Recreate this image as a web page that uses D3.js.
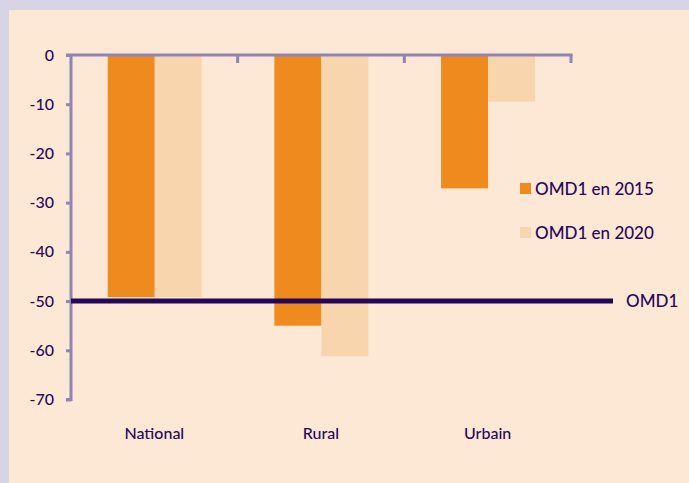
<!DOCTYPE html>
<html><head><meta charset="utf-8">
<script src="https://cdn.jsdelivr.net/npm/d3@7"></script>
<style>
html,body{margin:0;padding:0;background:#d6d4e5;}
svg{display:block;font-family:"Lato","Open Sans",sans-serif;}
</style></head>
<body>
<svg id="c" width="689" height="483"></svg>
<script>
const categories = ["National", "Rural", "Urbain"];
const series = ["OMD1 en 2015", "OMD1 en 2020"];
const values2015 = [-49.2, -55, -27.1];
const values2020 = [-49.2, -61.2, -9.5];
const yTicks = [0, -10, -20, -30, -40, -50, -60, -70];
const targetValue = -50;
const targetLabel = "OMD1";

const colors = ["#ee8a1e", "#f9d5ae"];
const textColor = "#27095a";
const axisColor = "#8e84b6";

const svg = d3.select("#c");
svg.append("rect").attr("x", 9).attr("y", 10).attr("width", 680).attr("height", 473).attr("fill", "#fde8d6");

const x0 = 71, x1 = 571, yTop = 55, yBot = 399.5;
const x = d3.scaleBand().domain(categories).range([x0, x1]);
const xs = d3.scaleBand().domain(series).range([0, 94]);
const y = d3.scaleLinear().domain([0, -70]).range([yTop, yBot]);

const data = [values2015, values2020];
categories.forEach((c, i) => {
  const gx = x(c) + x.bandwidth() / 2 - 46.6;
  series.forEach((s, j) => {
    const v = data[j][i];
    svg.append("rect")
      .attr("x", gx + xs(s))
      .attr("y", y(0))
      .attr("width", xs.bandwidth())
      .attr("height", y(v) - y(0))
      .attr("fill", colors[j]);
  });
});

// y axis
const yAxis = svg.append("g").attr("transform", `translate(${x0},0)`)
  .call(d3.axisLeft(y).tickValues(yTicks).tickSize(5).tickPadding(12).tickFormat(d3.format("d")));
yAxis.select(".domain").attr("stroke", axisColor).attr("stroke-width", 3).attr("d", `M-5,${yBot}H0V${yTop}`);
yAxis.selectAll(".tick line").attr("stroke", axisColor).attr("stroke-width", 3);
yAxis.selectAll(".tick text").attr("fill", textColor).attr("font-size", 16).attr("font-weight", 500)
  .attr("font-family", "Lato, 'Open Sans', sans-serif").text(d => d === 0 ? "0" : "-" + Math.abs(d));

// top x axis line with ticks at band boundaries
const boundaries = [x0].concat(categories.map(c => x(c) + x.bandwidth()));
svg.append("line").attr("x1", x0 - 5).attr("x2", x1 + 1.5).attr("y1", yTop).attr("y2", yTop)
  .attr("stroke", axisColor).attr("stroke-width", 3);
boundaries.slice(1).forEach(b => {
  svg.append("line").attr("x1", b).attr("x2", b).attr("y1", yTop).attr("y2", yTop + 8)
    .attr("stroke", axisColor).attr("stroke-width", 3);
});

// category labels
categories.forEach(c => {
  svg.append("text").attr("x", x(c) + x.bandwidth() / 2).attr("y", 439)
    .attr("text-anchor", "middle").attr("fill", textColor).attr("font-size", 16).attr("font-weight", 500).text(c);
});

// target line
svg.append("line").attr("x1", x0).attr("x2", 613).attr("y1", y(targetValue)).attr("y2", y(targetValue))
  .attr("stroke", "#240757").attr("stroke-width", 5);
svg.append("text").attr("x", 626).attr("y", y(targetValue) + 6).attr("fill", textColor)
  .attr("font-size", 17).attr("font-weight", 500).text(targetLabel);

// legend
series.forEach((s, j) => {
  const ly = 183 + j * 44;
  svg.append("rect").attr("x", 520).attr("y", ly).attr("width", 11).attr("height", 11).attr("fill", colors[j]);
  svg.append("text").attr("x", 535).attr("y", ly + 11.5).attr("fill", textColor).attr("font-size", 17).attr("font-weight", 500).text(s);
});
</script>
</body></html>
